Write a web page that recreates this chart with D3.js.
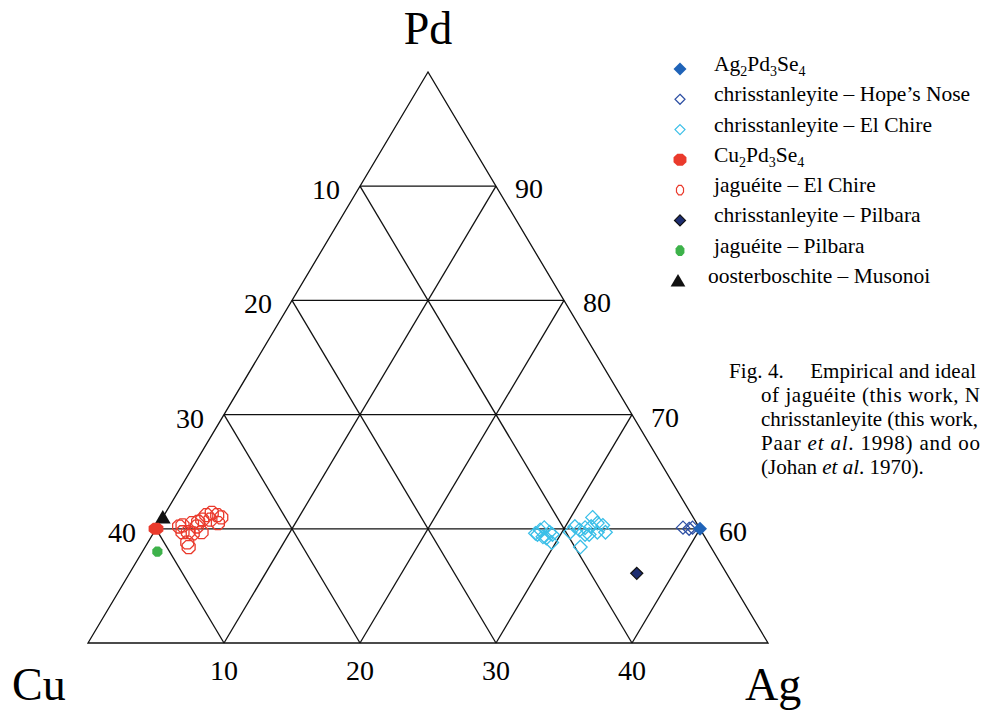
<!DOCTYPE html>
<html>
<head>
<meta charset="utf-8">
<script src="https://cdn.jsdelivr.net/npm/d3@7"></script>
<style>
  body { margin: 0; background: #fff; overflow: hidden; }
</style>
</head>
<body>
<div id="ternary"></div>
<script>
// compositions as [Pd, Cu, Ag] (at.%)
var agIdeal = [[60, 0, 40]];
var hopesNose = [[60.1, 1.2, 38.7], [60.0, 0.8, 39.2], [60.1, 0.5, 39.4]];
var elChireChr = [
  [59.6, 12.3, 28.1], [59.9, 11.8, 28.3], [60.1, 11.4, 28.5], [59.7, 11.2, 29.1],
  [59.2, 11.7, 29.1], [58.8, 11.5, 29.7], [59.3, 11.9, 28.8], [59.5, 12.2, 28.3],
  [59.5, 11.1, 29.4],
  [60.2, 9.1, 30.7], [59.9, 8.9, 31.2], [59.5, 8.7, 31.8], [60.2, 7.9, 31.9],
  [61.0, 7.4, 31.6], [60.5, 7.3, 32.2], [60.3, 7.0, 32.7], [59.7, 7.1, 33.2],
  [59.5, 8.4, 32.1], [58.4, 9.6, 32.0], [60.1, 8.4, 31.5], [59.7, 7.7, 32.6],
  [59.7, 9.7, 30.6]
];
var cuIdeal = [[60, 40, 0]];
var elChireJag = [
  [60.3, 37.9, 1.8], [59.7, 37.8, 2.5], [58.8, 38.3, 2.9], [60.5, 37.1, 2.4],
  [60.2, 36.9, 2.9], [59.7, 36.8, 3.5], [60.6, 36.6, 2.8], [61.2, 35.7, 3.1],
  [60.8, 35.6, 3.6], [60.5, 35.2, 4.3], [61.0, 34.7, 4.3], [61.4, 35.2, 3.4],
  [59.7, 38.2, 2.1], [59.6, 37.5, 2.9], [60.8, 36.2, 3.0], [61.2, 34.9, 3.9],
  [58.4, 38.4, 3.2], [60.2, 38.2, 1.6]
];
var pilbaraChr = [[56.1, 6.6, 37.3]];
var pilbaraJag = [[58.0, 40.9, 1.1]];
var musonoi = [[61.0, 39.0, 0]];

var gridValues = [10, 20, 30, 40];
var leftLabels = ["10", "20", "30", "40"];
var rightLabels = ["90", "80", "70", "60"];
var bottomLabels = ["10", "20", "30", "40"];

var legendNames = [
  ["Ag", "2", "Pd", "3", "Se", "4"],
  ["chrisstanleyite \u2013 Hope\u2019s Nose"],
  ["chrisstanleyite \u2013 El Chire"],
  ["Cu", "2", "Pd", "3", "Se", "4"],
  ["jagu\u00e9ite \u2013 El Chire"],
  ["chrisstanleyite \u2013 Pilbara"],
  ["jagu\u00e9ite \u2013 Pilbara"],
  ["oosterboschite \u2013 Musonoi"]
];

var chart = { width: 981, height: 712 };

const svg = d3.select("#ternary").append("svg")
  .attr("width", chart.width)
  .attr("height", chart.height)
  .attr("font-family", "'Liberation Serif', 'Times New Roman', 'DejaVu Serif', serif")
  .style("font-family", "'Liberation Serif', 'Times New Roman', 'DejaVu Serif', serif");

// ternary projection: horizontal by Ag - Cu, vertical by Pd
var x = d3.scaleLinear().domain([-50, 50]).range([88, 768]);
var y = d3.scaleLinear().domain([100, 50]).range([72, 643]);
function px(d) { return x(d[2] - d[1]); }
function py(d) { return y(d[0]); }

const grid = svg.append("g")
  .attr("fill", "none")
  .attr("stroke", "#111")
  .attr("stroke-width", 1.3);

var line = d3.line().x(px).y(py);

// outer triangle (Pd 100 to Pd 50 section)
grid.append("path")
  .attr("d", line([[100, 0, 0], [50, 50, 0], [50, 0, 50]]) + "Z")
  .attr("stroke-linejoin", "miter");

gridValues.forEach((v) => {
  // constant Pd
  grid.append("path").attr("d", line([[100 - v, v, 0], [100 - v, 0, v]]));
  // constant Ag
  grid.append("path").attr("d", line([[50, 50 - v, v], [100 - v, 0, v]]));
  // constant Cu
  grid.append("path").attr("d", line([[50, v, 50 - v], [100 - v, v, 0]]));
});

// tick labels
gridValues.forEach((v, i) => {
  svg.append("text")
    .attr("x", px([100 - v, v, 0]) - 34)
    .attr("y", py([100 - v, v, 0]) + 13)
    .attr("text-anchor", "middle")
    .attr("font-size", 28)
    .text(leftLabels[i]);
  svg.append("text")
    .attr("x", px([100 - v, 0, v]) + 33)
    .attr("y", py([100 - v, 0, v]) + 12)
    .attr("text-anchor", "middle")
    .attr("font-size", 28)
    .text(rightLabels[i]);
  svg.append("text")
    .attr("x", px([50, 50 - v, v]))
    .attr("y", 680)
    .attr("text-anchor", "middle")
    .attr("font-size", 28)
    .text(bottomLabels[i]);
});

// apex labels
svg.append("text").attr("x", 428).attr("y", 44).attr("text-anchor", "middle")
  .attr("font-size", 46).text("Pd");
svg.append("text").attr("x", 12).attr("y", 700)
  .attr("font-size", 46).text("Cu");
svg.append("text").attr("x", 745).attr("y", 700)
  .attr("font-size", 46).text("Ag");

// marker shapes
function diamond(s) {
  return `M0,${-s}L${s},0L0,${s}L${-s},0Z`;
}
function octagon(rx, ry) {
  var pts = d3.range(8).map((i) => {
    var a = Math.PI / 8 + i * Math.PI / 4;
    return [rx * Math.cos(a), ry * Math.sin(a)];
  });
  return "M" + pts.join("L") + "Z";
}
function triangle(s) {
  return `M0,${-s}L${s * 1.05},${s * 0.8}L${-s * 1.05},${s * 0.8}Z`;
}

var styles = [
  { data: agIdeal, path: diamond(7), fill: "#1f63b8", stroke: "none", lpath: diamond(6.5), z: 2 },
  { data: hopesNose, path: diamond(6.5), fill: "none", stroke: "#2d4fa3", lpath: diamond(5), z: 1 },
  { data: elChireChr, path: diamond(6.8), fill: "none", stroke: "#3bbfe8", lpath: diamond(5), z: 1 },
  { data: cuIdeal, path: octagon(8, 6.5), fill: "#ea3a2c", stroke: "none", lpath: octagon(7, 6.5), z: 2 },
  { data: elChireJag, path: octagon(7, 7), fill: "none", stroke: "#ea3a2c", lpath: octagon(3.8, 5.2), z: 1 },
  { data: pilbaraChr, path: diamond(6), fill: "#1d2d70", stroke: "#111", lpath: diamond(5.5), z: 1 },
  { data: pilbaraJag, path: octagon(5.5, 5.5), fill: "#3db24a", stroke: "none", lpath: octagon(4.8, 5.8), z: 1 },
  { data: musonoi, path: triangle(7.5), fill: "#111", stroke: "none", lpath: triangle(7), z: 1 }
];

// analyses first, ideal compositions on top
[1, 2].forEach((z) => {
  styles.filter((s) => s.z === z).forEach((s) => {
    svg.append("g")
      .selectAll("path")
      .data(s.data)
      .join("path")
      .attr("d", s.path)
      .attr("transform", (d) => `translate(${px(d)},${py(d)})`)
      .attr("fill", s.fill)
      .attr("stroke", s.stroke)
      .attr("stroke-width", 1.3);
  });
});

// legend
var legendY = d3.scaleLinear().domain([0, 7]).range([69, 281]);
styles.forEach((s, i) => {
  var ly = legendY(i);
  svg.append("path")
    .attr("d", s.lpath)
    .attr("transform", `translate(${i === 7 ? 678 : 680},${ly})`)
    .attr("fill", s.fill === "none" ? "#fff" : s.fill)
    .attr("stroke", s.stroke)
    .attr("stroke-width", 1.2);

  var t = svg.append("text")
    .attr("x", i === 7 ? 708 : 714)
    .attr("y", ly + 2)
    .attr("font-size", 21.5);
  var parts = legendNames[i];
  if (parts.length === 1) {
    t.text(parts[0]);
  } else {
    parts.forEach((p, k) => {
      var ts = t.append("tspan").text(p);
      if (k % 2 === 1) ts.attr("font-size", 14).attr("dy", 5);
      else if (k > 0) ts.attr("dy", -5);
    });
  }
});

// caption (cut off at the page edge, as in the source)
const cap = svg.append("g").attr("font-size", 21);
var capLines = [
  { x: 729, y: 378, parts: [["Fig. 4.\u2003 Empirical and ideal", false]], len: 247 },
  { x: 761, y: 402, parts: [["of jagu\u00e9ite (this work, N", false]], len: 219 },
  { x: 761, y: 426, parts: [["chrisstanleyite (this work,", false]], len: 217 },
  { x: 761, y: 450, parts: [["Paar ", false], ["et al", true], [". 1998) and oo", false]], len: 219 },
  { x: 761, y: 474, parts: [["(Johan ", false], ["et al", true], [". 1970).", false]] }
];
capLines.forEach((c) => {
  var t = cap.append("text").attr("x", c.x).attr("y", c.y);
  if (c.len) t.attr("textLength", c.len).attr("lengthAdjust", "spacing");
  c.parts.forEach((p) => {
    t.append("tspan").attr("font-style", p[1] ? "italic" : null).text(p[0]);
  });
});
</script>
</body>
</html>
